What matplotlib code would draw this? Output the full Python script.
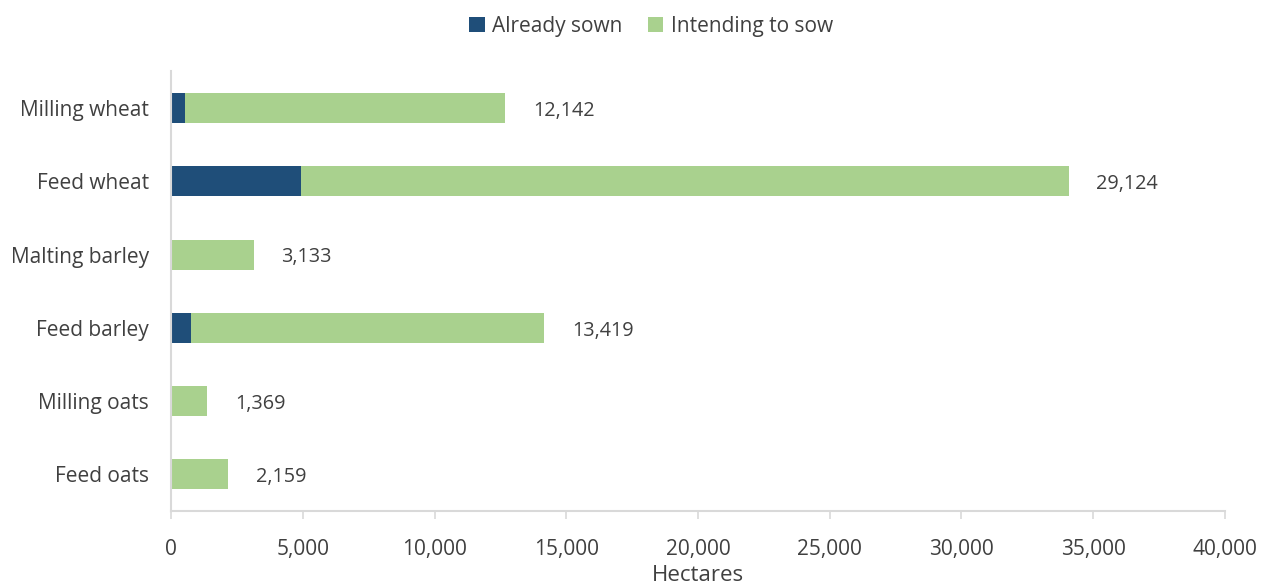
import matplotlib.pyplot as plt
from matplotlib.ticker import FuncFormatter
import numpy as np

plt.rcParams["font.family"] = ["Open Sans", "DejaVu Sans"]

crops = ["Milling wheat", "Feed wheat", "Malting barley", "Feed barley", "Milling oats", "Feed oats"]
already_sown = [540, 4950, 0, 740, 0, 0]
intending = [12142, 29124, 3133, 13419, 1369, 2159]

dark_blue = "#1F4E79"
green = "#A9D18E"
text_col = "#404040"
grid_col = "#D9D9D9"

fig = plt.figure(figsize=(12.69, 5.88), dpi=100)
ax = fig.add_axes([0.1348, 0.131, 0.8305, 0.7476])

y = np.arange(len(crops))
ax.barh(y, already_sown, height=0.41, color=dark_blue, label="Already sown")
ax.barh(y, intending, left=already_sown, height=0.41, color=green, label="Intending to sow")

for i, (s, v) in enumerate(zip(already_sown, intending)):
    ax.text(s + v + 1050, i + 0.04, f"{v:,}", va="center", ha="left",
            fontsize=14.3, color=text_col)

ax.set_xlim(0, 40000)
ax.set_ylim(len(crops) - 0.5, -0.5)
ax.set_yticks(y)
ax.set_yticklabels(crops, fontsize=15, color=text_col)
ax.set_xticks(np.arange(0, 40001, 5000))
ax.xaxis.set_major_formatter(FuncFormatter(lambda v, p: f"{int(v):,}"))
ax.tick_params(axis="x", labelsize=15, labelcolor=text_col, color=grid_col,
               length=6, width=1.2, pad=14)
ax.tick_params(axis="y", length=0, pad=16)

for side in ["top", "right"]:
    ax.spines[side].set_visible(False)
for side in ["left", "bottom"]:
    ax.spines[side].set_color(grid_col)
    ax.spines[side].set_linewidth(1.5)

ax.set_xlabel("Hectares", fontsize=16, color=text_col, labelpad=4)

fig.legend(loc="upper center", bbox_to_anchor=(0.513, 1.005), ncol=2, frameon=False,
           fontsize=15, handlelength=0.75, handleheight=0.75, handletextpad=0.35,
           columnspacing=1.2, labelcolor=text_col)

fig.savefig("out.png", dpi=100)
